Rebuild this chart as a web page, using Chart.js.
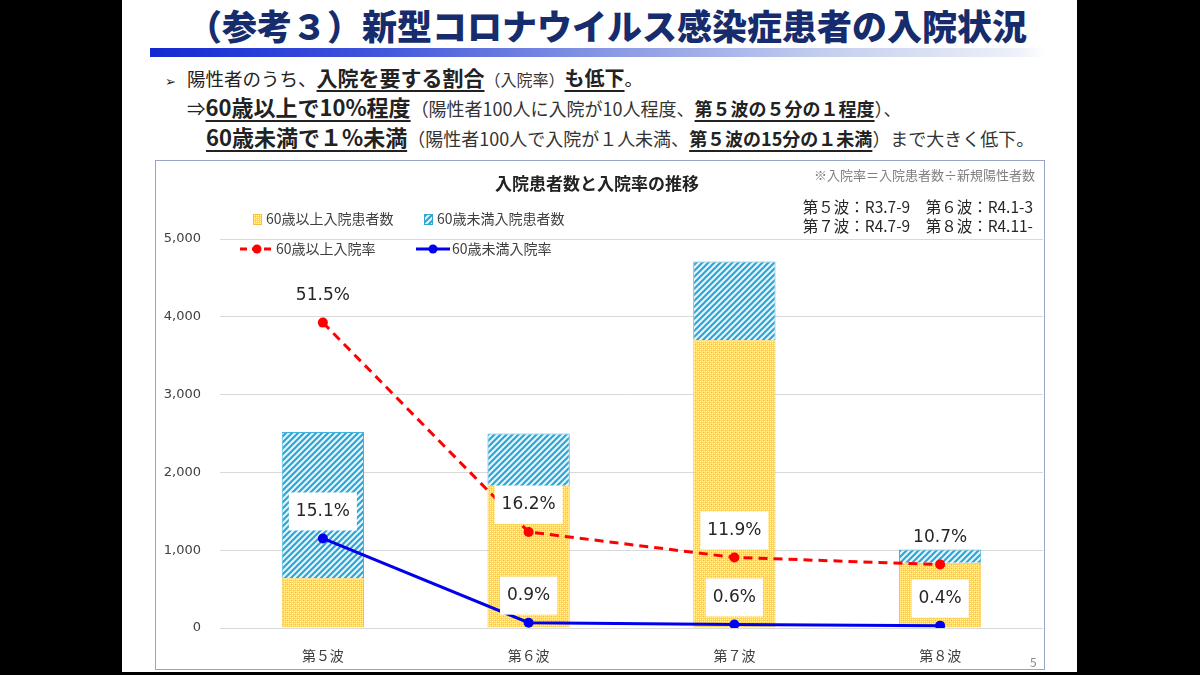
<!DOCTYPE html>
<html lang="ja">
<head>
<meta charset="utf-8">
<script src="https://cdn.jsdelivr.net/npm/chart.js@4.4.1/dist/chart.umd.min.js"></script>
<style>
  html, body { margin: 0; padding: 0; }
  body { width: 1200px; height: 675px; background: #000; position: relative; overflow: hidden;
         font-family: "Noto Sans CJK JP", "Noto Sans", sans-serif; color: #222; }
  .slide { position: absolute; left: 122px; top: 0; width: 955px; height: 672px; background: #fff; }
  .abs { position: absolute; white-space: nowrap; }
  .title { left: 0; width: 1214px; top: 0; text-align: center; font-size: 35px; font-weight: 900;
           color: #172c6c; line-height: 50px; }
  .bar { left: 150px; top: 48px; width: 895px; height: 9px;
         background: linear-gradient(to right, #1428d0 0%, #3f55dc 25%, #8595e3 50%, #c3cdee 75%, #eef1f9 97%, #fff 100%); }
  .line { font-size: 18.5px; line-height: 26px; }
  .b { font-weight: bold; text-decoration: underline; text-decoration-thickness: 2px; text-underline-offset: 4px; }
  .s { font-size: 16px; color: #333; }
  .box { left: 155px; top: 160px; width: 888px; height: 508px; border: 1px solid #98a6c6; }
  canvas { position: absolute; left: 156px; top: 161px; }
</style>
</head>
<body>
<div class="slide"></div>
<div class="abs title">（参考３）新型コロナウイルス感染症患者の入院状況</div>
<div class="abs bar"></div>

<div class="abs line" style="left:165px; top:64px;"><span style="font-size:13px; margin-right:11px;">&#x27A2;</span>陽性者のうち、<span class="b" style="font-size:21px;">入院を要する割合</span><span class="s">（入院率）</span><span class="b" style="font-size:20px;">も低下</span>。</div>
<div class="abs line" style="left:187px; top:93px;">⇒<span class="b" style="font-size:22px;">60歳以上で10%程度</span><span class="s" style="font-size:18px;">（陽性者100人に入院が10人程度、<span class="b" style="color:#222;">第５波の５分の１程度</span>）、</span></div>
<div class="abs line" style="left:206px; top:123px;"><span class="b" style="font-size:22px;">60歳未満で１%未満</span><span class="s" style="font-size:18px;">（陽性者100人で入院が１人未満、<span class="b" style="color:#222;">第５波の15分の１未満</span>）まで大きく低下。</span></div>

<div class="abs box"></div>
<canvas id="chart" width="892" height="508" style="width:892px;height:508px;"></canvas>

<div class="abs" style="left:0; width:1194px; top:170px; text-align:center; font-size:17px; font-weight:bold; color:#222;">入院患者数と入院率の推移</div>
<div class="abs" style="right:165px; top:165px; font-size:13px; color:#7f7f7f;">※入院率＝入院患者数÷新規陽性者数</div>
<div class="abs" style="right:167px; top:197px; font-size:15.5px; line-height:19px; color:#262626; text-align:left;">第５波：R3.7-9　第６波：R4.1-3<br>第７波：R4.7-9　第８波：R4.11-</div>
<div class="abs" style="left:1030px; top:653px; font-size:12px; color:#8a8a8a;">5</div>

<script>
const waves = ['第５波', '第６波', '第７波', '第８波'];
const patientsOver60 = [640, 1830, 3700, 840];
const patientsUnder60 = [1880, 670, 1010, 170];
const rateOver60 = [51.5, 16.2, 11.9, 10.7];
const rateUnder60 = [15.1, 0.9, 0.6, 0.4];
const yTicks = [0, 1000, 2000, 3000, 4000, 5000];

// which rate labels get a white box behind them
const boxOver60 = [true, true, true, false];
const boxUnder60 = [true, true, true, true];

function dotPattern() {
  const c = document.createElement('canvas');
  c.width = 4; c.height = 4;
  const g = c.getContext('2d');
  g.fillStyle = '#ffd863';
  g.fillRect(0, 0, 4, 4);
  g.fillStyle = '#fff2cc';
  g.fillRect(0, 0, 1, 1); g.fillRect(2, 0, 1, 1);
  g.fillRect(0, 2, 1, 1); g.fillRect(2, 2, 1, 1);
  g.fillStyle = '#f6c443';
  g.fillRect(1, 1, 1, 1); g.fillRect(3, 3, 1, 1);
  return g.createPattern(c, 'repeat');
}

function stripePattern() {
  const s = 6;
  const c = document.createElement('canvas');
  c.width = s; c.height = s;
  const g = c.getContext('2d');
  g.fillStyle = '#e6f6fc';
  g.fillRect(0, 0, s, s);
  g.strokeStyle = '#2ea6d8';
  g.lineWidth = 2.2;
  g.beginPath();
  g.moveTo(0, s); g.lineTo(s, 0);
  g.moveTo(-1, 1); g.lineTo(1, -1);
  g.moveTo(s - 1, s + 1); g.lineTo(s + 1, s - 1);
  g.stroke();
  return g.createPattern(c, 'repeat');
}

const yellowFill = dotPattern();
const blueFill = stripePattern();

const legendPlugin = {
  id: 'sideLegend',
  afterDraw(chart) {
    const ctx = chart.ctx;
    ctx.save();
    ctx.font = '14px "Noto Sans CJK JP", sans-serif';
    ctx.textBaseline = 'middle';
    // row 1: bars
    ctx.fillStyle = yellowFill;
    ctx.fillRect(97, 53, 9, 11);
    ctx.strokeStyle = '#f3c040'; ctx.lineWidth = 1;
    ctx.strokeRect(97.5, 53.5, 8, 10);
    ctx.fillStyle = blueFill;
    ctx.fillRect(268, 53, 9, 11);
    ctx.strokeStyle = '#2ea6d8';
    ctx.strokeRect(268.5, 53.5, 8, 10);
    ctx.fillStyle = '#404040';
    ctx.fillText('60歳以上入院患者数', 110, 58);
    ctx.fillText('60歳未満入院患者数', 281, 58);
    // row 2: lines
    ctx.lineWidth = 3;
    ctx.strokeStyle = '#ff0000';
    ctx.setLineDash([7, 5]);
    ctx.beginPath(); ctx.moveTo(84, 88); ctx.lineTo(118, 88); ctx.stroke();
    ctx.setLineDash([]);
    ctx.fillStyle = '#ff0000';
    ctx.beginPath(); ctx.arc(101, 88, 4.5, 0, Math.PI * 2); ctx.fill();
    ctx.strokeStyle = '#0000ee';
    ctx.beginPath(); ctx.moveTo(260, 88); ctx.lineTo(294, 88); ctx.stroke();
    ctx.fillStyle = '#0000ee';
    ctx.beginPath(); ctx.arc(277, 88, 4.5, 0, Math.PI * 2); ctx.fill();
    ctx.fillStyle = '#404040';
    ctx.fillText('60歳以上入院率', 120, 88);
    ctx.fillText('60歳未満入院率', 296, 88);
    ctx.restore();
  }
};

const rateLabels = {
  id: 'rateLabels',
  afterDatasetsDraw(chart) {
    const ctx = chart.ctx;
    ctx.save();
    ctx.font = '17px "DejaVu Sans", "Noto Sans", sans-serif';
    ctx.textAlign = 'center';
    ctx.textBaseline = 'middle';
    chart.data.datasets.forEach((ds, i) => {
      if (ds.type !== 'line') return;
      const boxes = ds.label === '60歳以上入院率' ? boxOver60 : boxUnder60;
      chart.getDatasetMeta(i).data.forEach((pt, j) => {
        const txt = ds.data[j].toFixed(1) + '%';
        const w = ctx.measureText(txt).width + 14;
        const cy = pt.y - 27;
        if (boxes[j]) {
          ctx.fillStyle = '#ffffff';
          ctx.fillRect(pt.x - w / 2, cy - 19, w, 38);
        }
        ctx.fillStyle = '#262626';
        ctx.fillText(txt, pt.x, cy);
      });
    });
    ctx.restore();
  }
};

new Chart(document.getElementById('chart'), {
  data: {
    labels: waves,
    datasets: [
      {
        type: 'line',
        label: '60歳以上入院率',
        data: rateOver60,
        yAxisID: 'y2',
        borderColor: '#ff0000',
        backgroundColor: '#ff0000',
        borderWidth: 3,
        borderDash: [9, 6],
        pointRadius: 5,
        pointBorderWidth: 0,
        pointHoverRadius: 5,
        tension: 0,
        order: 0
      },
      {
        type: 'line',
        label: '60歳未満入院率',
        data: rateUnder60,
        yAxisID: 'y2',
        borderColor: '#0000ee',
        backgroundColor: '#0000ee',
        borderWidth: 3,
        pointRadius: 5,
        pointBorderWidth: 0,
        pointHoverRadius: 5,
        tension: 0,
        order: 0
      },
      {
        type: 'bar',
        label: '60歳以上入院患者数',
        data: patientsOver60,
        stack: 'p',
        backgroundColor: yellowFill,
        borderColor: '#f5c445',
        borderWidth: 1,
        barPercentage: 0.4,
        categoryPercentage: 1.0,
        order: 1
      },
      {
        type: 'bar',
        label: '60歳未満入院患者数',
        data: patientsUnder60,
        stack: 'p',
        backgroundColor: blueFill,
        borderColor: '#40b4de',
        borderWidth: 1,
        barPercentage: 0.4,
        categoryPercentage: 1.0,
        order: 1
      }
    ]
  },
  options: {
    responsive: false,
    animation: false,
    layout: { padding: { top: 78, right: 1, left: 0, bottom: 0 } },
    plugins: {
      legend: { display: false },
      tooltip: { enabled: false }
    },
    scales: {
      x: {
        stacked: true,
        grid: { display: false },
        border: { display: false },
        ticks: { color: '#404040', font: { size: 14, family: '"Noto Sans CJK JP"' }, padding: 11 },
        afterFit(s) { s.height = 41; }
      },
      y: {
        stacked: true,
        min: 0,
        max: 5000,
        afterBuildTicks(s) { s.ticks = yTicks.map(v => ({ value: v })); },
        grid: { color: '#d9d9d9', drawTicks: false },
        border: { display: false },
        ticks: {
          color: '#404040',
          font: { size: 13, family: '"DejaVu Sans", sans-serif' },
          padding: 19,
          callback: v => v.toLocaleString('en-US')
        },
        afterFit(s) { s.width = 64; }
      },
      y2: {
        display: false,
        min: 0,
        max: 65.6
      }
    }
  },
  plugins: [legendPlugin, rateLabels]
});
</script>
</body>
</html>
